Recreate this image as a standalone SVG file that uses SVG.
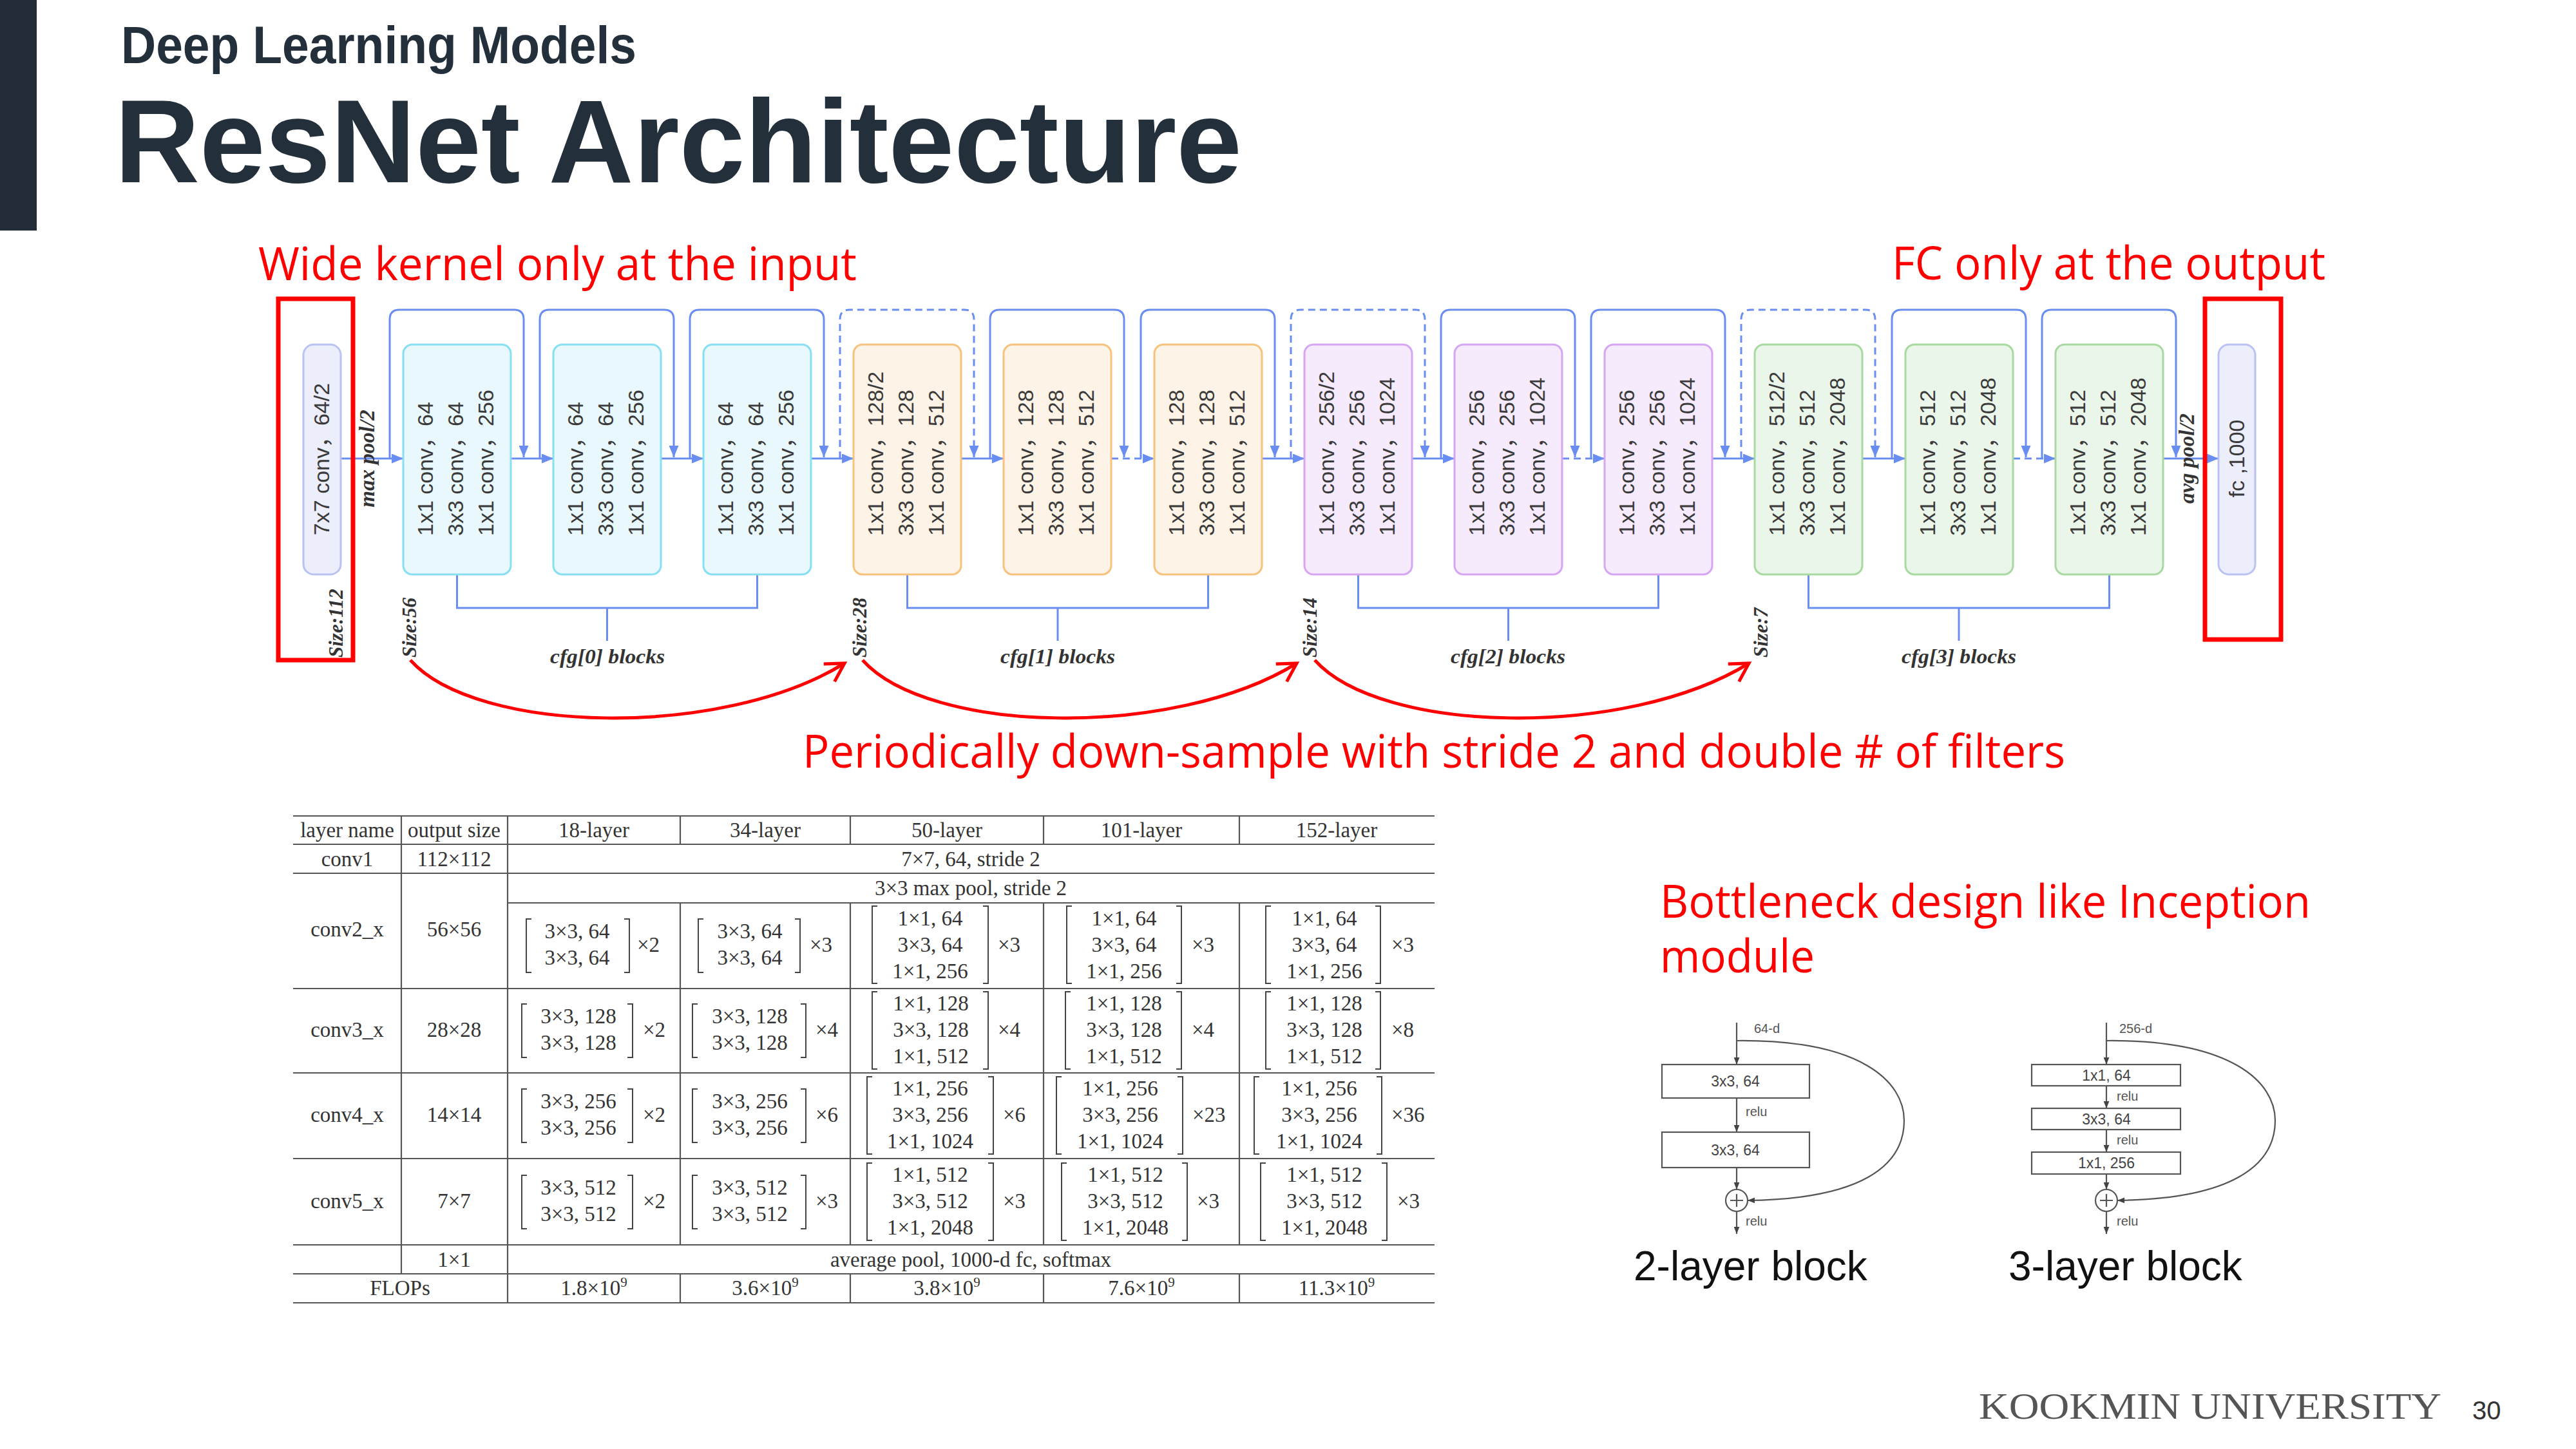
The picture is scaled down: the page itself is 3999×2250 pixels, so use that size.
<svg xmlns="http://www.w3.org/2000/svg" width="3999" height="2250" viewBox="0 0 3999 2250">
<style>
.bt text{font-family:"Liberation Sans","Noto Sans CJK SC",sans-serif;font-size:34px;fill:#3a3a3a}
.box{stroke-width:3}
.cy rect{fill:#e8f8fc;stroke:#86dff2}
.or rect{fill:#fdf3e6;stroke:#f7c27c}
.pu rect{fill:#f6eafd;stroke:#d6a6f4}
.gr rect{fill:#ebf6ea;stroke:#a8d9a1}
.io rect{fill:#eceefc;stroke:#b9c2f2}
.it{font-family:"Liberation Serif",serif;font-style:italic;font-weight:bold;fill:#333}
.red{font-family:"Open Sans",sans-serif;fill:#ff0000;font-size:72px}
.bl{fill:none;stroke:#6a8df2;stroke-width:3}
.dash{stroke-dasharray:11 7}
.rb{fill:none;stroke:#ff0000;stroke-width:7}
.ra{fill:none;stroke:#ff0000;stroke-width:5}
.tl{stroke:#555;stroke-width:2.2}
.tt{font-family:"Liberation Serif",serif;font-size:33px;fill:#333;text-anchor:middle}
.tm{font-family:"Liberation Serif",serif;font-size:33px;fill:#333}
.br{fill:none;stroke:#444;stroke-width:2}
.gl{fill:none;stroke:#555;stroke-width:2.2}
.gt{font-family:"Liberation Sans",sans-serif;font-size:23px;fill:#444}
.gs{font-family:"Liberation Sans",sans-serif;font-size:20px;fill:#555}
</style>
<defs>
<marker id="ab" viewBox="0 0 12 10" refX="12" refY="5" markerWidth="18" markerHeight="15" markerUnits="userSpaceOnUse" orient="auto"><path d="M0,0 L12,5 L0,10 z" fill="#6a8df2"/></marker>
<marker id="ar" viewBox="0 0 40 40" refX="32" refY="20" markerWidth="40" markerHeight="40" markerUnits="userSpaceOnUse" orient="auto"><path d="M4,4 L32,20 L4,36" fill="none" stroke="#ff0000" stroke-width="5"/></marker>
<marker id="ak" viewBox="0 0 10 8" refX="10" refY="4" markerWidth="11" markerHeight="9" markerUnits="userSpaceOnUse" orient="auto"><path d="M0,0 L10,4 L0,8 z" fill="#444"/></marker>
</defs>
<rect width="3999" height="2250" fill="#ffffff"/>
<rect x="0" y="0" width="57" height="358" fill="#222d39"/>
<text x="188" y="98" font-family="Liberation Sans,sans-serif" font-weight="bold" font-size="82" fill="#232f3b" textLength="800" lengthAdjust="spacingAndGlyphs">Deep Learning Models</text>
<text x="178" y="283" font-family="Liberation Sans,sans-serif" font-weight="bold" font-size="184" fill="#232f3b" textLength="1750" lengthAdjust="spacingAndGlyphs">ResNet Architecture</text>

<text class="red" x="401" y="435" textLength="929" lengthAdjust="spacingAndGlyphs">Wide kernel only at the input</text>
<text class="red" x="2937" y="434" textLength="673" lengthAdjust="spacingAndGlyphs">FC only at the output</text>
<text class="red" x="1246" y="1192" textLength="1960" lengthAdjust="spacingAndGlyphs">Periodically down-sample with stride 2 and double # of filters</text>
<text class="red" x="2577" y="1425" textLength="1010" lengthAdjust="spacingAndGlyphs">Bottleneck design like Inception</text>
<text class="red" x="2577" y="1510" textLength="240" lengthAdjust="spacingAndGlyphs">module</text>

<g id="connectors">
<path class="bl" d="M529,712 H626" marker-end="url(#ab)"/>
<path class="bl" d="M793,712 H859" marker-end="url(#ab)"/>
<path class="bl" d="M1026,712 H1092" marker-end="url(#ab)"/>
<path class="bl" d="M1259,712 H1325" marker-end="url(#ab)"/>
<path class="bl" d="M1492,712 H1558" marker-end="url(#ab)"/>
<path class="bl dash" d="M1725,712 H1792" marker-end="url(#ab)"/>
<path class="bl" d="M1959,712 H2025" marker-end="url(#ab)"/>
<path class="bl" d="M2192,712 H2258" marker-end="url(#ab)"/>
<path class="bl dash" d="M2425,712 H2491" marker-end="url(#ab)"/>
<path class="bl" d="M2658,712 H2724" marker-end="url(#ab)"/>
<path class="bl" d="M2891,712 H2958" marker-end="url(#ab)"/>
<path class="bl dash" d="M3125,712 H3191" marker-end="url(#ab)"/>
<path class="bl" d="M3358,712 H3444" marker-end="url(#ab)"/>

<path class="bl" d="M605,712 V496 Q605,481 620,481 H798 Q813,481 813,496 V710" marker-end="url(#ab)"/>
<path class="bl" d="M838,712 V496 Q838,481 853,481 H1031 Q1046,481 1046,496 V710" marker-end="url(#ab)"/>
<path class="bl" d="M1071,712 V496 Q1071,481 1086,481 H1264 Q1279,481 1279,496 V710" marker-end="url(#ab)"/>
<path class="bl dash" d="M1304,712 V496 Q1304,481 1319,481 H1497 Q1512,481 1512,496 V710" marker-end="url(#ab)"/>
<path class="bl" d="M1537,712 V496 Q1537,481 1552,481 H1730 Q1745,481 1745,496 V710" marker-end="url(#ab)"/>
<path class="bl" d="M1771,712 V496 Q1771,481 1786,481 H1964 Q1979,481 1979,496 V710" marker-end="url(#ab)"/>
<path class="bl dash" d="M2004,712 V496 Q2004,481 2019,481 H2197 Q2212,481 2212,496 V710" marker-end="url(#ab)"/>
<path class="bl" d="M2237,712 V496 Q2237,481 2252,481 H2430 Q2445,481 2445,496 V710" marker-end="url(#ab)"/>
<path class="bl" d="M2470,712 V496 Q2470,481 2485,481 H2663 Q2678,481 2678,496 V710" marker-end="url(#ab)"/>
<path class="bl dash" d="M2703,712 V496 Q2703,481 2718,481 H2896 Q2911,481 2911,496 V710" marker-end="url(#ab)"/>
<path class="bl" d="M2937,712 V496 Q2937,481 2952,481 H3130 Q3145,481 3145,496 V710" marker-end="url(#ab)"/>
<path class="bl" d="M3170,712 V496 Q3170,481 3185,481 H3363 Q3378,481 3378,496 V710" marker-end="url(#ab)"/>

<path class="bl" d="M709.5,892 V944 H1175.5 V892 M942.5,944 V995"/>
<path class="bl" d="M1408.5,892 V944 H1875.5 V892 M1642,944 V995"/>
<path class="bl" d="M2108.5,892 V944 H2574.5 V892 M2341.5,944 V995"/>
<path class="bl" d="M2807.5,892 V944 H3274.5 V892 M3041,944 V995"/>

<path class="ra" d="M637,1025 C740,1140 1120,1148 1311,1030" marker-end="url(#ar)"/>
<path class="ra" d="M1339,1025 C1442,1140 1822,1148 2013,1030" marker-end="url(#ar)"/>
<path class="ra" d="M2041,1025 C2144,1140 2524,1148 2715,1030" marker-end="url(#ar)"/>
</g>

<rect class="rb" x="432" y="464" width="116" height="561"/>
<rect class="rb" x="3423" y="464" width="118" height="529"/>

<g id="conv7" class="bt io"><rect class="box" x="471" y="535" width="58" height="357" rx="16"/><text transform="translate(511 713) rotate(-90)" text-anchor="middle">7x7 conv，64/2</text></g>
<g id="fc" class="bt io"><rect class="box" x="3444" y="535" width="57" height="357" rx="16"/><text transform="translate(3484 712) rotate(-90)" text-anchor="middle">fc ,1000</text></g>

<g id="b1" class="bt cy" transform="translate(626 0)"><rect class="box" x="0" y="535" width="167" height="357" rx="14"/><text transform="translate(46 832) rotate(-90)">1x1 conv，64</text><text transform="translate(93 832) rotate(-90)">3x3 conv，64</text><text transform="translate(140 832) rotate(-90)">1x1 conv，256</text></g>
<g id="b2" class="bt cy" transform="translate(859 0)"><rect class="box" x="0" y="535" width="167" height="357" rx="14"/><text transform="translate(46 832) rotate(-90)">1x1 conv，64</text><text transform="translate(93 832) rotate(-90)">3x3 conv，64</text><text transform="translate(140 832) rotate(-90)">1x1 conv，256</text></g>
<g id="b3" class="bt cy" transform="translate(1092 0)"><rect class="box" x="0" y="535" width="167" height="357" rx="14"/><text transform="translate(46 832) rotate(-90)">1x1 conv，64</text><text transform="translate(93 832) rotate(-90)">3x3 conv，64</text><text transform="translate(140 832) rotate(-90)">1x1 conv，256</text></g>
<g id="b4" class="bt or" transform="translate(1325 0)"><rect class="box" x="0" y="535" width="167" height="357" rx="14"/><text transform="translate(46 832) rotate(-90)">1x1 conv，128/2</text><text transform="translate(93 832) rotate(-90)">3x3 conv，128</text><text transform="translate(140 832) rotate(-90)">1x1 conv，512</text></g>
<g id="b5" class="bt or" transform="translate(1558 0)"><rect class="box" x="0" y="535" width="167" height="357" rx="14"/><text transform="translate(46 832) rotate(-90)">1x1 conv，128</text><text transform="translate(93 832) rotate(-90)">3x3 conv，128</text><text transform="translate(140 832) rotate(-90)">1x1 conv，512</text></g>
<g id="b6" class="bt or" transform="translate(1792 0)"><rect class="box" x="0" y="535" width="167" height="357" rx="14"/><text transform="translate(46 832) rotate(-90)">1x1 conv，128</text><text transform="translate(93 832) rotate(-90)">3x3 conv，128</text><text transform="translate(140 832) rotate(-90)">1x1 conv，512</text></g>
<g id="b7" class="bt pu" transform="translate(2025 0)"><rect class="box" x="0" y="535" width="167" height="357" rx="14"/><text transform="translate(46 832) rotate(-90)">1x1 conv，256/2</text><text transform="translate(93 832) rotate(-90)">3x3 conv，256</text><text transform="translate(140 832) rotate(-90)">1x1 conv，1024</text></g>
<g id="b8" class="bt pu" transform="translate(2258 0)"><rect class="box" x="0" y="535" width="167" height="357" rx="14"/><text transform="translate(46 832) rotate(-90)">1x1 conv，256</text><text transform="translate(93 832) rotate(-90)">3x3 conv，256</text><text transform="translate(140 832) rotate(-90)">1x1 conv，1024</text></g>
<g id="b9" class="bt pu" transform="translate(2491 0)"><rect class="box" x="0" y="535" width="167" height="357" rx="14"/><text transform="translate(46 832) rotate(-90)">1x1 conv，256</text><text transform="translate(93 832) rotate(-90)">3x3 conv，256</text><text transform="translate(140 832) rotate(-90)">1x1 conv，1024</text></g>
<g id="b10" class="bt gr" transform="translate(2724 0)"><rect class="box" x="0" y="535" width="167" height="357" rx="14"/><text transform="translate(46 832) rotate(-90)">1x1 conv，512/2</text><text transform="translate(93 832) rotate(-90)">3x3 conv，512</text><text transform="translate(140 832) rotate(-90)">1x1 conv，2048</text></g>
<g id="b11" class="bt gr" transform="translate(2958 0)"><rect class="box" x="0" y="535" width="167" height="357" rx="14"/><text transform="translate(46 832) rotate(-90)">1x1 conv，512</text><text transform="translate(93 832) rotate(-90)">3x3 conv，512</text><text transform="translate(140 832) rotate(-90)">1x1 conv，2048</text></g>
<g id="b12" class="bt gr" transform="translate(3191 0)"><rect class="box" x="0" y="535" width="167" height="357" rx="14"/><text transform="translate(46 832) rotate(-90)">1x1 conv，512</text><text transform="translate(93 832) rotate(-90)">3x3 conv，512</text><text transform="translate(140 832) rotate(-90)">1x1 conv，2048</text></g>

<g id="labels">
<text class="it" font-size="33" transform="translate(581 712) rotate(-90)" text-anchor="middle">max pool/2</text>
<text class="it" font-size="33" transform="translate(3406 712) rotate(-90)" text-anchor="middle">avg pool/2</text>
<text class="it" font-size="31" transform="translate(532 1021) rotate(-90)">Size:112</text>
<text class="it" font-size="31" transform="translate(646 1021) rotate(-90)">Size:56</text>
<text class="it" font-size="31" transform="translate(1345 1021) rotate(-90)">Size:28</text>
<text class="it" font-size="31" transform="translate(2044 1021) rotate(-90)">Size:14</text>
<text class="it" font-size="31" transform="translate(2744 1021) rotate(-90)">Size:7</text>
<text class="it" font-size="31" x="943" y="1030" text-anchor="middle" textLength="178" lengthAdjust="spacingAndGlyphs">cfg[0] blocks</text>
<text class="it" font-size="31" x="1642" y="1030" text-anchor="middle" textLength="178" lengthAdjust="spacingAndGlyphs">cfg[1] blocks</text>
<text class="it" font-size="31" x="2341" y="1030" text-anchor="middle" textLength="178" lengthAdjust="spacingAndGlyphs">cfg[2] blocks</text>
<text class="it" font-size="31" x="3041" y="1030" text-anchor="middle" textLength="178" lengthAdjust="spacingAndGlyphs">cfg[3] blocks</text>
</g>

<g id="table">
<path class="tl" d="M455,1267 H2227 M455,1311 H2227 M455,1356 H2227 M788,1402 H2227 M455,1535 H2227 M455,1666 H2227 M455,1799 H2227 M455,1933 H2227 M455,1978 H2227 M455,2023 H2227"/>
<path class="tl" d="M623,1267 V1978 M788,1267 V2023 M1056,1267 V1311 M1056,1402 V1933 M1056,1978 V2023 M1320,1267 V1311 M1320,1402 V1933 M1320,1978 V2023 M1620,1267 V1311 M1620,1402 V1933 M1620,1978 V2023 M1924,1267 V1311 M1924,1402 V1933 M1924,1978 V2023"/>
<text class="tt" x="539" y="1300">layer name</text><text class="tt" x="705" y="1300">output size</text><text class="tt" x="922" y="1300">18-layer</text><text class="tt" x="1188" y="1300">34-layer</text><text class="tt" x="1470" y="1300">50-layer</text><text class="tt" x="1772" y="1300">101-layer</text><text class="tt" x="2075" y="1300">152-layer</text>
<text class="tt" x="539" y="1345">conv1</text><text class="tt" x="705" y="1345">112×112</text><text class="tt" x="1507" y="1345">7×7, 64, stride 2</text>
<text class="tt" x="1507" y="1390">3×3 max pool, stride 2</text>
<text class="tt" x="539" y="1454">conv2_x</text><text class="tt" x="705" y="1454">56×56</text>
<text class="tt" x="539" y="1610">conv3_x</text><text class="tt" x="705" y="1610">28×28</text>
<text class="tt" x="539" y="1742">conv4_x</text><text class="tt" x="705" y="1742">14×14</text>
<text class="tt" x="539" y="1876">conv5_x</text><text class="tt" x="705" y="1876">7×7</text>
<text class="tt" x="705" y="1967">1×1</text><text class="tt" x="1507" y="1967">average pool, 1000-d fc, softmax</text>
<text class="tt" x="621" y="2011">FLOPs</text>
<text class="tt" x="922" y="2011">1.8×10<tspan font-size="21" dy="-13">9</tspan></text>
<text class="tt" x="1188" y="2011">3.6×10<tspan font-size="21" dy="-13">9</tspan></text>
<text class="tt" x="1470" y="2011">3.8×10<tspan font-size="21" dy="-13">9</tspan></text>
<text class="tt" x="1772" y="2011">7.6×10<tspan font-size="21" dy="-13">9</tspan></text>
<text class="tt" x="2075" y="2011">11.3×10<tspan font-size="21" dy="-13">9</tspan></text>

<!-- conv2 row m=1468 -->
<path class="br" d="M825,1427 H817 V1510 H825 M969,1427 H977 V1510 H969"/><text class="tt" x="896" y="1457">3×3, 64</text><text class="tt" x="896" y="1498">3×3, 64</text><text class="tm" x="989" y="1478">×2</text>
<path class="br" d="M1092,1427 H1084 V1510 H1092 M1234,1427 H1242 V1510 H1234"/><text class="tt" x="1164" y="1457">3×3, 64</text><text class="tt" x="1164" y="1498">3×3, 64</text><text class="tm" x="1257" y="1478">×3</text>
<path class="br" d="M1362,1407 H1354 V1527 H1362 M1526,1407 H1534 V1527 H1526"/><text class="tt" x="1444" y="1437">1×1, 64</text><text class="tt" x="1444" y="1478">3×3, 64</text><text class="tt" x="1444" y="1519">1×1, 256</text><text class="tm" x="1549" y="1478">×3</text>
<path class="br" d="M1664,1407 H1656 V1527 H1664 M1826,1407 H1834 V1527 H1826"/><text class="tt" x="1745" y="1437">1×1, 64</text><text class="tt" x="1745" y="1478">3×3, 64</text><text class="tt" x="1745" y="1519">1×1, 256</text><text class="tm" x="1850" y="1478">×3</text>
<path class="br" d="M1973,1407 H1965 V1527 H1973 M2135,1407 H2143 V1527 H2135"/><text class="tt" x="2056" y="1437">1×1, 64</text><text class="tt" x="2056" y="1478">3×3, 64</text><text class="tt" x="2056" y="1519">1×1, 256</text><text class="tm" x="2160" y="1478">×3</text>
<!-- conv3 row m=1600 -->
<path class="br" d="M818,1559 H810 V1642 H818 M974,1559 H982 V1642 H974"/><text class="tt" x="898" y="1589">3×3, 128</text><text class="tt" x="898" y="1630">3×3, 128</text><text class="tm" x="998" y="1610">×2</text>
<path class="br" d="M1083,1559 H1075 V1642 H1083 M1243,1559 H1251 V1642 H1243"/><text class="tt" x="1164" y="1589">3×3, 128</text><text class="tt" x="1164" y="1630">3×3, 128</text><text class="tm" x="1266" y="1610">×4</text>
<path class="br" d="M1362,1540 H1354 V1660 H1362 M1526,1540 H1534 V1660 H1526"/><text class="tt" x="1445" y="1569">1×1, 128</text><text class="tt" x="1445" y="1610">3×3, 128</text><text class="tt" x="1445" y="1651">1×1, 512</text><text class="tm" x="1549" y="1610">×4</text>
<path class="br" d="M1662,1540 H1654 V1660 H1662 M1826,1540 H1834 V1660 H1826"/><text class="tt" x="1745" y="1569">1×1, 128</text><text class="tt" x="1745" y="1610">3×3, 128</text><text class="tt" x="1745" y="1651">1×1, 512</text><text class="tm" x="1850" y="1610">×4</text>
<path class="br" d="M1973,1540 H1965 V1660 H1973 M2135,1540 H2143 V1660 H2135"/><text class="tt" x="2056" y="1569">1×1, 128</text><text class="tt" x="2056" y="1610">3×3, 128</text><text class="tt" x="2056" y="1651">1×1, 512</text><text class="tm" x="2160" y="1610">×8</text>
<!-- conv4 row m=1732 -->
<path class="br" d="M818,1691 H810 V1774 H818 M974,1691 H982 V1774 H974"/><text class="tt" x="898" y="1721">3×3, 256</text><text class="tt" x="898" y="1762">3×3, 256</text><text class="tm" x="998" y="1742">×2</text>
<path class="br" d="M1083,1691 H1075 V1774 H1083 M1243,1691 H1251 V1774 H1243"/><text class="tt" x="1164" y="1721">3×3, 256</text><text class="tt" x="1164" y="1762">3×3, 256</text><text class="tm" x="1266" y="1742">×6</text>
<path class="br" d="M1354,1672 H1346 V1792 H1354 M1534,1672 H1542 V1792 H1534"/><text class="tt" x="1444" y="1701">1×1, 256</text><text class="tt" x="1444" y="1742">3×3, 256</text><text class="tt" x="1444" y="1783">1×1, 1024</text><text class="tm" x="1557" y="1742">×6</text>
<path class="br" d="M1648,1672 H1640 V1792 H1648 M1828,1672 H1836 V1792 H1828"/><text class="tt" x="1739" y="1701">1×1, 256</text><text class="tt" x="1739" y="1742">3×3, 256</text><text class="tt" x="1739" y="1783">1×1, 1024</text><text class="tm" x="1851" y="1742">×23</text>
<path class="br" d="M1955,1672 H1947 V1792 H1955 M2137,1672 H2145 V1792 H2137"/><text class="tt" x="2048" y="1701">1×1, 256</text><text class="tt" x="2048" y="1742">3×3, 256</text><text class="tt" x="2048" y="1783">1×1, 1024</text><text class="tm" x="2160" y="1742">×36</text>
<!-- conv5 row m=1866 -->
<path class="br" d="M818,1825 H810 V1908 H818 M974,1825 H982 V1908 H974"/><text class="tt" x="898" y="1855">3×3, 512</text><text class="tt" x="898" y="1896">3×3, 512</text><text class="tm" x="998" y="1876">×2</text>
<path class="br" d="M1083,1825 H1075 V1908 H1083 M1243,1825 H1251 V1908 H1243"/><text class="tt" x="1164" y="1855">3×3, 512</text><text class="tt" x="1164" y="1896">3×3, 512</text><text class="tm" x="1266" y="1876">×3</text>
<path class="br" d="M1354,1806 H1346 V1926 H1354 M1534,1806 H1542 V1926 H1534"/><text class="tt" x="1444" y="1835">1×1, 512</text><text class="tt" x="1444" y="1876">3×3, 512</text><text class="tt" x="1444" y="1917">1×1, 2048</text><text class="tm" x="1557" y="1876">×3</text>
<path class="br" d="M1656,1806 H1648 V1926 H1656 M1835,1806 H1843 V1926 H1835"/><text class="tt" x="1747" y="1835">1×1, 512</text><text class="tt" x="1747" y="1876">3×3, 512</text><text class="tt" x="1747" y="1917">1×1, 2048</text><text class="tm" x="1858" y="1876">×3</text>
<path class="br" d="M1965,1806 H1957 V1926 H1965 M2145,1806 H2153 V1926 H2145"/><text class="tt" x="2056" y="1835">1×1, 512</text><text class="tt" x="2056" y="1876">3×3, 512</text><text class="tt" x="2056" y="1917">1×1, 2048</text><text class="tm" x="2169" y="1876">×3</text>
</g>

<g id="block2layer">
<text class="gs" x="2723" y="1604">64-d</text>
<path class="gl" d="M2696,1588 V1653" marker-end="url(#ak)"/>
<rect class="gl" x="2580" y="1653" width="229" height="52" fill="#fff"/>
<text class="gt" x="2694" y="1687" text-anchor="middle">3x3, 64</text>
<path class="gl" d="M2696,1705 V1758" marker-end="url(#ak)"/>
<text class="gs" x="2710" y="1733">relu</text>
<rect class="gl" x="2580" y="1758" width="229" height="55" fill="#fff"/>
<text class="gt" x="2694" y="1794" text-anchor="middle">3x3, 64</text>
<path class="gl" d="M2696,1813 V1847" marker-end="url(#ak)"/>
<circle class="gl" cx="2696" cy="1864" r="17"/>
<path class="gl" d="M2686,1864 H2706 M2696,1854 V1874"/>
<path class="gl" d="M2696,1881 V1916" marker-end="url(#ak)"/>
<text class="gs" x="2710" y="1903">relu</text>
<path class="gl" d="M2696,1616 C2890,1614 2956,1680 2956,1740 C2956,1810 2890,1862 2713,1864" marker-end="url(#ak)"/>
<text x="2536" y="1988" font-family="Liberation Sans,sans-serif" font-size="64" fill="#111">2-layer block</text>
</g>

<g id="block3layer">
<text class="gs" x="3290" y="1604">256-d</text>
<path class="gl" d="M3270,1588 V1653" marker-end="url(#ak)"/>
<rect class="gl" x="3154" y="1653" width="231" height="33" fill="#fff"/>
<text class="gt" x="3270" y="1678" text-anchor="middle">1x1, 64</text>
<path class="gl" d="M3270,1686 V1721" marker-end="url(#ak)"/>
<text class="gs" x="3286" y="1709">relu</text>
<rect class="gl" x="3154" y="1721" width="231" height="33" fill="#fff"/>
<text class="gt" x="3270" y="1746" text-anchor="middle">3x3, 64</text>
<path class="gl" d="M3270,1754 V1789" marker-end="url(#ak)"/>
<text class="gs" x="3286" y="1777">relu</text>
<rect class="gl" x="3154" y="1789" width="231" height="34" fill="#fff"/>
<text class="gt" x="3270" y="1814" text-anchor="middle">1x1, 256</text>
<path class="gl" d="M3270,1823 V1847" marker-end="url(#ak)"/>
<circle class="gl" cx="3270" cy="1864" r="17"/>
<path class="gl" d="M3260,1864 H3280 M3270,1854 V1874"/>
<path class="gl" d="M3270,1881 V1916" marker-end="url(#ak)"/>
<text class="gs" x="3286" y="1903">relu</text>
<path class="gl" d="M3270,1616 C3464,1614 3532,1680 3532,1740 C3532,1810 3464,1862 3287,1864" marker-end="url(#ak)"/>
<text x="3118" y="1988" font-family="Liberation Sans,sans-serif" font-size="64" fill="#111">3-layer block</text>
</g>

<text x="3072" y="2203" font-family="Liberation Serif,serif" font-size="58" fill="#555" textLength="718" lengthAdjust="spacingAndGlyphs">KOOKMIN UNIVERSITY</text>
<text x="3838" y="2204" font-family="Liberation Sans,sans-serif" font-size="40" fill="#333">30</text>
</svg>
